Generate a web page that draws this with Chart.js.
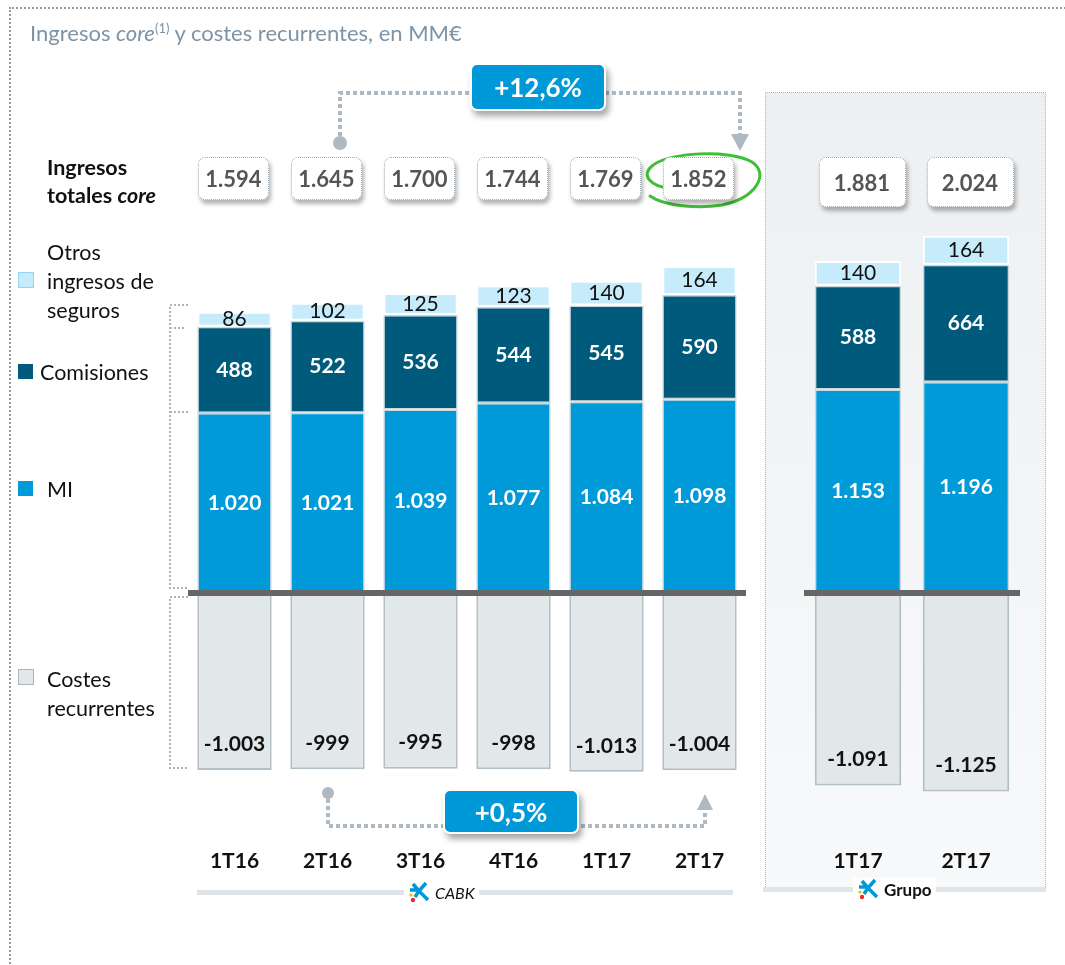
<!DOCTYPE html>
<html>
<head>
<meta charset="utf-8">
<script src="https://cdn.jsdelivr.net/npm/chart.js@4.4.1/dist/chart.umd.min.js"></script>
<style>
    body { margin: 0; width: 1065px; height: 965px; position: relative; overflow: hidden; background: #fff; font-family: Lato, "Open Sans", sans-serif; }
    .abs { position: absolute; }
    .frame { left: 9px; top: 7px; width: 1070px; height: 970px; border-left: 2px dotted #9a9a9a; border-top: 2px dotted #9a9a9a; }
    .panel { left: 765px; top: 92px; width: 279px; height: 797px; border: 1.5px dotted #aab5bd; background: linear-gradient(#edf0f2, #f8f9fa); }
    canvas { position: absolute; left: 0; top: 0; }
    .title { left: 30px; top: 19px; font-size: 22px; color: #7d94a6; white-space: nowrap; }
    .title sup { font-size: 13px; }
    .lbl { font-size: 21.5px; color: #111; line-height: 29px; white-space: nowrap; }
    .bold { font-weight: 700; }
    .sq { width: 14px; height: 14px; }
    .total { box-sizing: border-box; background: #fff; border: 1.5px dotted #9fabb4; border-radius: 7px; box-shadow: 2px 4px 4px rgba(0,0,0,0.3);
             font-weight: 700; font-size: 22px; color: #555; display: flex; align-items: center; justify-content: center; }
    .badge { box-sizing: border-box; background: #0099d8; border: 2px solid #fff; border-radius: 7px; box-shadow: 3px 5px 6px rgba(0,0,0,0.35);
             color: #fff; font-weight: 700; font-size: 26px; display: flex; align-items: center; justify-content: center; }
    .grp { font-size: 17px; color: #111; background: #fff; padding: 0 4px; display: flex; align-items: center; gap: 5px; }
    svg.over { position: absolute; left: 0; top: 0; }
</style>
</head>
<body>
<div class="abs frame"></div>
<div class="abs panel"></div>
<div class="abs" style="left:197px;top:890px;width:536px;height:5px;background:#dfe4e8"></div>
<div class="abs" style="left:763px;top:887px;width:283px;height:5px;background:#dfe4e8"></div>

<canvas id="cabk" width="1065" height="965"></canvas>
<canvas id="grupo" width="1065" height="965"></canvas>

<svg class="over" width="1065" height="965">
    <g fill="none" stroke="#aeb9c1" stroke-width="4" stroke-dasharray="4 3">
        <path d="M340 136 V93 H740 V134"/>
        <path d="M328 799 V826 H705 V810"/>
    </g>
    <circle cx="340" cy="143" r="7" fill="#aeb9c1"/>
    <circle cx="328" cy="793" r="6" fill="#aeb9c1"/>
    <polygon points="731,134 749,134 740,151" fill="#aeb9c1"/>
    <polygon points="697,810 713,810 705,794" fill="#aeb9c1"/>
    <g fill="none" stroke="#aab4bc" stroke-width="2" stroke-dasharray="2 2">
        <path d="M188 305 H170 V588 H188 M170 328 H186 M170 412 H188"/>
        <path d="M188 597 H170 V768 H188"/>
    </g>
    <path d="M668 188 C 652 186, 640 176, 652 166 C 668 152, 730 149, 752 162 C 770 174, 756 198, 722 205 C 698 209, 664 206, 650 196"
          fill="none" stroke="#3fbf35" stroke-width="3" stroke-linecap="round"/>
</svg>

<div class="abs title">Ingresos <i>core</i><sup>(1)</sup> y costes recurrentes, en MM€</div>
<div class="abs lbl bold" style="left:47px;top:153px;line-height:28px">Ingresos<br>totales <i>core</i></div>

<div class="abs sq" style="left:18px;top:272px;background:#c6ecfc;border:1px solid #8fd6f5"></div>
<div class="abs lbl" style="left:47px;top:238px">Otros<br>ingresos de<br>seguros</div>
<div class="abs sq" style="left:18px;top:364px;width:15px;height:15px;background:#005a7c"></div>
<div class="abs lbl" style="left:40px;top:358px">Comisiones</div>
<div class="abs sq" style="left:18px;top:481px;width:15px;height:15px;background:#009ad9"></div>
<div class="abs lbl" style="left:47px;top:475px">MI</div>
<div class="abs sq" style="left:18px;top:669px;background:#e2e7ea;border:1px solid #a9b6bf"></div>
<div class="abs lbl" style="left:47px;top:665px">Costes<br>recurrentes</div>

<div class="abs badge" style="left:470px;top:63px;width:136px;height:48px">+12,6%</div>
<div class="abs badge" style="left:443px;top:789px;width:136px;height:45px">+0,5%</div>

<div class="abs grp" style="left:404px;top:881px;font-style:italic;font-size:16px">
    <svg width="22" height="22" viewBox="0 0 22 22"><path d="M5 3 L11 10 L18 2 M11 10 L20 19 M11 10 L7 16 M2 9 H11" stroke="#0099d8" stroke-width="3.5" fill="none"/><circle cx="5" cy="19" r="2.2" fill="#e63027"/><circle cx="3" cy="14" r="1.6" fill="#f5b800"/></svg>CABK</div>
<div class="abs grp" style="left:853px;top:878px;font-weight:700">
    <svg width="22" height="22" viewBox="0 0 22 22"><path d="M5 3 L11 10 L18 2 M11 10 L20 19 M11 10 L7 16 M2 9 H11" stroke="#0099d8" stroke-width="3.5" fill="none"/><circle cx="5" cy="19" r="2.2" fill="#e63027"/><circle cx="3" cy="14" r="1.6" fill="#f5b800"/></svg>Grupo</div>

<script>
// CABK quarters
const cabkLabels = ['1T16', '2T16', '3T16', '4T16', '1T17', '2T17'];
const cabkMI = [1020, 1021, 1039, 1077, 1084, 1098];
const cabkComisiones = [488, 522, 536, 544, 545, 590];
const cabkSeguros = [86, 102, 125, 123, 140, 164];
const cabkCostes = [-1003, -999, -995, -998, -1013, -1004];
const cabkTotales = [1594, 1645, 1700, 1744, 1769, 1852];

// Grupo quarters
const grupoLabels = ['1T17', '2T17'];
const grupoMI = [1153, 1196];
const grupoComisiones = [588, 664];
const grupoSeguros = [140, 164];
const grupoCostes = [-1091, -1125];
const grupoTotales = [1881, 2024];

const Y_MIN = -1300;
const Y_MAX = 2150;

// 1594 -> "1.594"
function fmt(v) {
    const s = String(Math.abs(v)).replace(/\B(?=(\d{3})+(?!\d))/g, '.');
    return (v < 0 ? '-' : '') + s;
}

const labelStyle = [
    { font: '700 21px Lato', color: '#fff' },
    { font: '700 21px Lato', color: '#fff' },
    { font: '400 21px Lato', color: '#111' },
    { font: '700 21px Lato', color: '#111' }
];

// zero line + values inside bars
const barDecor = {
    id: 'barDecor',
    afterDatasetsDraw(chart) {
        const ctx = chart.ctx;
        const area = chart.chartArea;
        const y0 = chart.scales.y.getPixelForValue(0);
        ctx.save();
        ctx.strokeStyle = '#666';
        ctx.lineWidth = 6;
        ctx.beginPath();
        ctx.moveTo(area.left, y0);
        ctx.lineTo(area.right, y0);
        ctx.stroke();

        ctx.textAlign = 'center';
        ctx.textBaseline = 'middle';
        chart.data.datasets.forEach((ds, di) => {
            const meta = chart.getDatasetMeta(di);
            ctx.font = labelStyle[di].font;
            ctx.fillStyle = labelStyle[di].color;
            meta.data.forEach((bar, i) => {
                const v = ds.data[i];
                const y = v < 0 ? bar.y - 26 : (bar.y + bar.base) / 2;
                ctx.fillText(fmt(v), bar.x, y);
            });
        });
        ctx.restore();
    }
};

function makeChart(id, labels, mi, com, seg, cost, padLeft, padRight) {
    const ctx = document.getElementById(id).getContext('2d');
    return new Chart(ctx, {
        type: 'bar',
        data: {
            labels: labels,
            datasets: [
                { label: 'MI', data: mi, backgroundColor: '#009ad9', borderColor: '#cfd6db', borderWidth: 1.5, borderSkipped: false },
                { label: 'Comisiones', data: com, backgroundColor: '#005a7c', borderColor: '#cfd6db', borderWidth: 1.5, borderSkipped: false },
                { label: 'Otros ingresos de seguros', data: seg, backgroundColor: '#c6ecfc', borderColor: '#ffffff', borderWidth: 2, borderSkipped: false },
                { label: 'Costes recurrentes', data: cost, backgroundColor: '#e2e7ea', borderColor: '#b3bfc7', borderWidth: 2, borderSkipped: false }
            ]
        },
        options: {
            responsive: false,
            animation: false,
            events: [],
            layout: { padding: { left: padLeft, right: padRight, top: 213.5, bottom: 82.5 } },
            datasets: { bar: { barPercentage: 0.8, categoryPercentage: 1 } },
            plugins: { legend: { display: false }, tooltip: { enabled: false } },
            scales: {
                x: {
                    stacked: true,
                    grid: { display: false, drawTicks: false },
                    border: { display: false },
                    ticks: { padding: 26, color: '#111', font: { family: 'Lato', size: 21, weight: '700' } },
                    afterFit: (axis) => { axis.height = 60; }
                },
                y: { stacked: true, display: false, min: Y_MIN, max: Y_MAX }
            }
        },
        plugins: [barDecor]
    });
}

const cabkChart = makeChart('cabk', cabkLabels, cabkMI, cabkComisiones, cabkSeguros, cabkCostes, 188, 319);
const grupoChart = makeChart('grupo', grupoLabels, grupoMI, grupoComisiones, grupoSeguros, grupoCostes, 804, 45);

// total boxes above the bars
function addTotals(chart, totals, w, h, top, shift) {
    totals.forEach((t, i) => {
        const x = chart.scales.x.getPixelForValue(i) + shift;
        const d = document.createElement('div');
        d.className = 'abs total';
        d.style.cssText = `left:${x - w / 2}px;top:${top}px;width:${w}px;height:${h}px;z-index:3`;
        d.textContent = fmt(t);
        document.body.appendChild(d);
    });
}
addTotals(cabkChart, cabkTotales, 71, 43, 157, -1);
addTotals(grupoChart, grupoTotales, 87, 50, 157, 4);
</script>
</body>
</html>
